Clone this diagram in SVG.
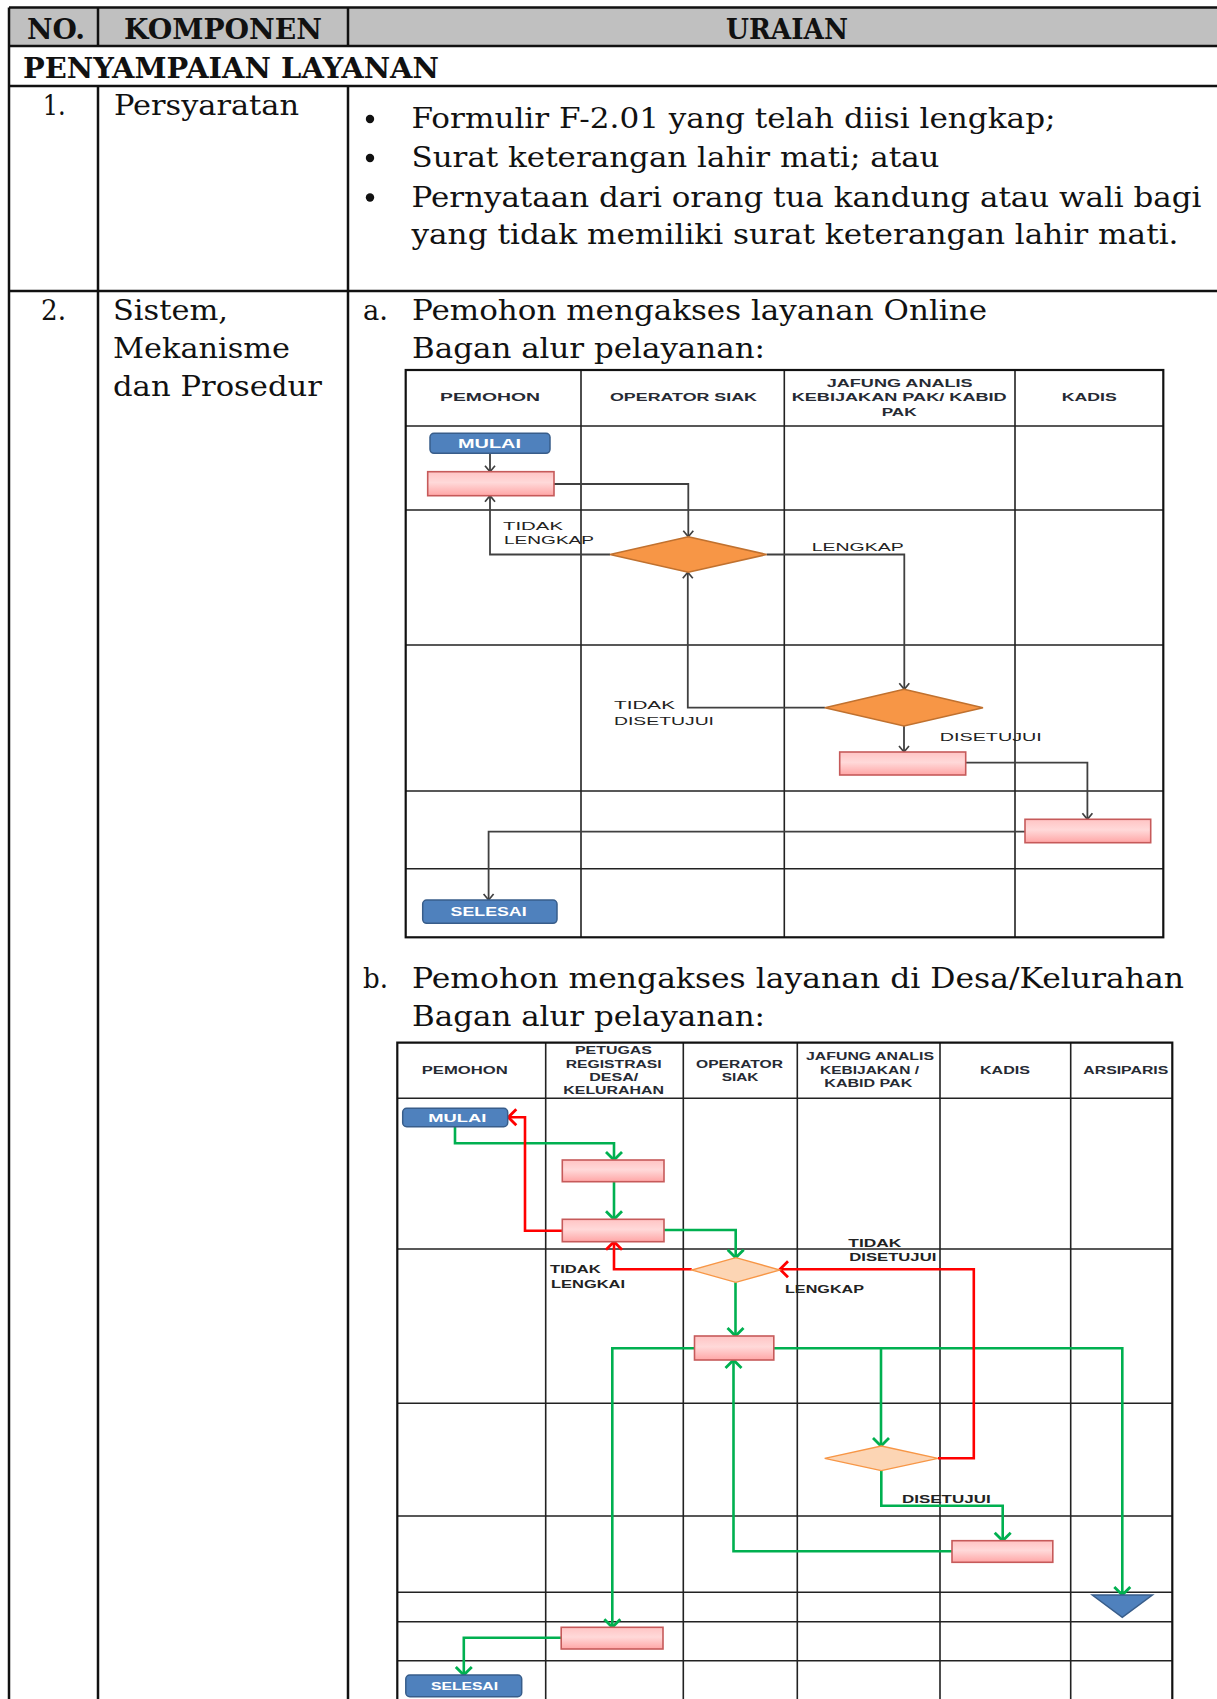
<svg xmlns="http://www.w3.org/2000/svg" width="1217" height="1699" viewBox="0 0 1217 1699">
  <style>
    .t { font-family: "DejaVu Serif", "Liberation Serif", serif; font-size: 27px; fill: #111; }
    .tb { font-family: "DejaVu Serif", "Liberation Serif", serif; font-size: 27px; font-weight: bold; fill: #111; }
    .grid { stroke: #111; stroke-width: 2.5; fill: none; }
    .lane { stroke: #222; stroke-width: 1.6; fill: none; }
    .lane-outer { stroke: #111; stroke-width: 2.2; fill: none; }
    .hd { font-family: "Liberation Sans", Arial, sans-serif; font-weight: bold; fill: #262a33; text-anchor: start; }
    .hda { font-size: 11px; }
    .hdb { font-size: 10px; }
    .lbl { font-family: "Liberation Sans", Arial, sans-serif; font-size: 11.5px; fill: #222; }
    .lblb { font-family: "Liberation Sans", Arial, sans-serif; font-size: 10.5px; font-weight: bold; fill: #222; }
    .term { fill: #4f81bd; stroke: #385d8a; stroke-width: 1.5; }
    .termtx { font-family: "Liberation Sans", Arial, sans-serif; font-weight: bold; fill: #fff; }
    .proc { fill: url(#pink); stroke: #c65a5a; stroke-width: 1.6; }
    .dec-a { fill: #f79646; stroke: #c0712f; stroke-width: 1.5; }
    .dec-b { fill: #fcd5b4; stroke: #f79646; stroke-width: 1.3; }
    .cg { fill: none; stroke: #404040; stroke-width: 1.8; }
    .cgr { fill: none; stroke: #00b050; stroke-width: 2.6; }
    .crd { fill: none; stroke: #ff0000; stroke-width: 2.6; }
  </style>
  <defs>
    <linearGradient id="pink" x1="0" y1="0" x2="0" y2="1">
      <stop offset="0" stop-color="#ffc4c4"/>
      <stop offset="0.45" stop-color="#ffd9d9"/>
      <stop offset="1" stop-color="#ffa6a6"/>
    </linearGradient>
    <marker id="arrGray" viewBox="-8 -7 10 14" markerWidth="10" markerHeight="14" refX="0" refY="0" orient="auto" markerUnits="userSpaceOnUse">
      <path d="M-6,-5 L0,0 L-6,5" fill="none" stroke="#404040" stroke-width="1.7"/>
    </marker>
    <marker id="arrGreen" viewBox="-11 -10 13 20" markerWidth="13" markerHeight="20" refX="0" refY="0" orient="auto" markerUnits="userSpaceOnUse">
      <path d="M-8,-8 L0,0 L-8,8" fill="none" stroke="#00b050" stroke-width="2.8"/>
    </marker>
    <marker id="arrRed" viewBox="-11 -10 13 20" markerWidth="13" markerHeight="20" refX="0" refY="0" orient="auto" markerUnits="userSpaceOnUse">
      <path d="M-8,-8 L0,0 L-8,8" fill="none" stroke="#ff0000" stroke-width="2.8"/>
    </marker>
  </defs>

  <rect width="1217" height="1699" fill="#fff"/>

  <!-- outer table -->
  <g id="table">
    <rect x="9" y="7.5" width="1210" height="38.5" fill="#c0c0c0"/>
    <path class="grid" d="M9,7.5 H1217 M9,46 H1217 M9,86 H1217 M9,291 H1217 M9,7.5 V1699 M98,7.5 V46 M348,7.5 V46 M98,86 V1699 M348,86 V1699"/>
  </g>

  <g id="table-text">
    <text class="tb" x="27" y="38.5" textLength="58" lengthAdjust="spacingAndGlyphs">NO.</text>
    <text class="tb" x="124" y="38.5" textLength="198" lengthAdjust="spacingAndGlyphs">KOMPONEN</text>
    <text class="tb" x="726" y="38.5" textLength="122" lengthAdjust="spacingAndGlyphs">URAIAN</text>
    <text class="tb" x="23" y="78" textLength="416" lengthAdjust="spacingAndGlyphs">PENYAMPAIAN LAYANAN</text>

    <text class="t" x="42.7" y="114.5" textLength="23" lengthAdjust="spacingAndGlyphs">1.</text>
    <text class="t" x="114" y="114.5" textLength="185" lengthAdjust="spacingAndGlyphs">Persyaratan</text>
    <circle cx="370" cy="119" r="4.2" fill="#111"/>
    <circle cx="370" cy="158" r="4.2" fill="#111"/>
    <circle cx="370" cy="197.5" r="4.2" fill="#111"/>
    <text class="t" x="411.5" y="128" textLength="644" lengthAdjust="spacingAndGlyphs">Formulir F-2.01 yang telah diisi lengkap;</text>
    <text class="t" x="411.5" y="167" textLength="528" lengthAdjust="spacingAndGlyphs">Surat keterangan lahir mati; atau</text>
    <text class="t" x="411.5" y="206.7" textLength="790" lengthAdjust="spacingAndGlyphs">Pernyataan dari orang tua kandung atau wali bagi</text>
    <text class="t" x="411.5" y="243.5" textLength="767" lengthAdjust="spacingAndGlyphs">yang tidak memiliki surat keterangan lahir mati.</text>

    <text class="t" x="41" y="320" textLength="25" lengthAdjust="spacingAndGlyphs">2.</text>
    <text class="t" x="113" y="320" textLength="115" lengthAdjust="spacingAndGlyphs">Sistem,</text>
    <text class="t" x="113" y="358" textLength="177" lengthAdjust="spacingAndGlyphs">Mekanisme</text>
    <text class="t" x="113" y="396" textLength="209" lengthAdjust="spacingAndGlyphs">dan Prosedur</text>

    <text class="t" x="363" y="320" textLength="25" lengthAdjust="spacingAndGlyphs">a.</text>
    <text class="t" x="412" y="320" textLength="575" lengthAdjust="spacingAndGlyphs">Pemohon mengakses layanan Online</text>
    <text class="t" x="412" y="358" textLength="353" lengthAdjust="spacingAndGlyphs">Bagan alur pelayanan:</text>

    <text class="t" x="363" y="988" textLength="25" lengthAdjust="spacingAndGlyphs">b.</text>
    <text class="t" x="412" y="988" textLength="772" lengthAdjust="spacingAndGlyphs">Pemohon mengakses layanan di Desa/Kelurahan</text>
    <text class="t" x="412" y="1025.5" textLength="353" lengthAdjust="spacingAndGlyphs">Bagan alur pelayanan:</text>
  </g>

  <!-- ===== Flowchart a: online service ===== -->
  <g id="flow-a-lanes">
    <path class="lane" d="M405.7,426 H1163.3 M405.7,510 H1163.3 M405.7,645 H1163.3 M405.7,791 H1163.3 M405.7,868.7 H1163.3 M581,370 V937.3 M784.3,370 V937.3 M1015,370 V937.3"/>
    <rect class="lane-outer" x="405.7" y="370" width="757.6" height="567.3"/>
    <text class="hd hda" x="440" y="400.7" textLength="100" lengthAdjust="spacingAndGlyphs">PEMOHON</text>
    <text class="hd hda" x="610" y="400.7" textLength="147" lengthAdjust="spacingAndGlyphs">OPERATOR SIAK</text>
    <text class="hd hda" x="826.7" y="386.7" textLength="146" lengthAdjust="spacingAndGlyphs">JAFUNG ANALIS</text>
    <text class="hd hda" x="791.7" y="400.7" textLength="215" lengthAdjust="spacingAndGlyphs">KEBIJAKAN PAK/ KABID</text>
    <text class="hd hda" x="881.7" y="415.7" textLength="35" lengthAdjust="spacingAndGlyphs">PAK</text>
    <text class="hd hda" x="1061.7" y="400.7" textLength="55" lengthAdjust="spacingAndGlyphs">KADIS</text>
  </g>

  <g id="flow-a-connectors">
    <path class="cg" d="M490,453.3 V471.7" marker-end="url(#arrGray)"/>
    <path class="cg" d="M554,484 H688.3 V536.7" marker-end="url(#arrGray)"/>
    <path class="cg" d="M610,554.5 H490 V495.7" marker-end="url(#arrGray)"/>
    <path class="cg" d="M766.7,554.5 H904.3 V689.3" marker-end="url(#arrGray)"/>
    <path class="cg" d="M824.9,707.7 H687.8 V572.3" marker-end="url(#arrGray)"/>
    <path class="cg" d="M904,726 V752" marker-end="url(#arrGray)"/>
    <path class="cg" d="M965.7,762.7 H1087.4 V819.3" marker-end="url(#arrGray)"/>
    <path class="cg" d="M1025,831.7 H488.6 V900" marker-end="url(#arrGray)"/>
    <text class="lbl" x="503" y="530" textLength="60" lengthAdjust="spacingAndGlyphs">TIDAK</text>
    <text class="lbl" x="504" y="544.3" textLength="90" lengthAdjust="spacingAndGlyphs">LENGKAP</text>
    <text class="lbl" x="811.7" y="550.7" textLength="92" lengthAdjust="spacingAndGlyphs">LENGKAP</text>
    <text class="lbl" x="614" y="709.3" textLength="61" lengthAdjust="spacingAndGlyphs">TIDAK</text>
    <text class="lbl" x="614" y="724.7" textLength="100" lengthAdjust="spacingAndGlyphs">DISETUJUI</text>
    <text class="lbl" x="939.8" y="740.7" textLength="102" lengthAdjust="spacingAndGlyphs">DISETUJUI</text>
  </g>

  <g id="a-mulai">
    <rect class="term" x="430" y="433.3" width="120" height="20" rx="4"/>
    <text class="termtx" x="458" y="447.7" font-size="12" textLength="63" lengthAdjust="spacingAndGlyphs">MULAI</text>
  </g>
  <g id="a-proc1"><rect class="proc" x="427.7" y="471.7" width="126.3" height="24"/></g>
  <g id="a-dec1"><polygon class="dec-a" points="688.3,536.7 766.7,554.5 688.3,572.3 610,554.5"/></g>
  <g id="a-dec2"><polygon class="dec-a" points="904,689.3 983,707.7 904,726 824.9,707.7"/></g>
  <g id="a-proc2"><rect class="proc" x="839.7" y="752" width="126" height="23"/></g>
  <g id="a-proc3"><rect class="proc" x="1025" y="819.3" width="125.7" height="23.4"/></g>
  <g id="a-selesai">
    <rect class="term" x="422.7" y="900" width="134.3" height="23.3" rx="4"/>
    <text class="termtx" x="450.6" y="916" font-size="12" textLength="76" lengthAdjust="spacingAndGlyphs">SELESAI</text>
  </g>

  <!-- ===== Flowchart b: service at village office ===== -->
  <g id="flow-b-lanes">
    <path class="lane" d="M397.3,1098.3 H1172.3 M397.3,1249 H1172.3 M397.3,1403.3 H1172.3 M397.3,1516 H1172.3 M397.3,1592.3 H1172.3 M397.3,1621.7 H1172.3 M397.3,1660.7 H1172.3 M545.7,1042.7 V1699 M683.3,1042.7 V1699 M797.3,1042.7 V1699 M940,1042.7 V1699 M1070.7,1042.7 V1699"/>
    <path class="lane-outer" d="M397.3,1699 V1042.7 H1172.3 V1699"/>
    <text class="hd hdb" x="421.7" y="1073.7" textLength="86" lengthAdjust="spacingAndGlyphs">PEMOHON</text>
    <text class="hd hdb" x="575" y="1054.4" textLength="77" lengthAdjust="spacingAndGlyphs">PETUGAS</text>
    <text class="hd hdb" x="565.7" y="1067.7" textLength="96" lengthAdjust="spacingAndGlyphs">REGISTRASI</text>
    <text class="hd hdb" x="589.3" y="1081.4" textLength="49" lengthAdjust="spacingAndGlyphs">DESA/</text>
    <text class="hd hdb" x="563.3" y="1094.4" textLength="100.7" lengthAdjust="spacingAndGlyphs">KELURAHAN</text>
    <text class="hd hdb" x="696" y="1067.7" textLength="87" lengthAdjust="spacingAndGlyphs">OPERATOR</text>
    <text class="hd hdb" x="721.7" y="1081.4" textLength="36.7" lengthAdjust="spacingAndGlyphs">SIAK</text>
    <text class="hd hdb" x="806" y="1060.4" textLength="128" lengthAdjust="spacingAndGlyphs">JAFUNG ANALIS</text>
    <text class="hd hdb" x="820" y="1073.7" textLength="99" lengthAdjust="spacingAndGlyphs">KEBIJAKAN /</text>
    <text class="hd hdb" x="824.3" y="1087" textLength="88" lengthAdjust="spacingAndGlyphs">KABID PAK</text>
    <text class="hd hdb" x="980" y="1073.7" textLength="50" lengthAdjust="spacingAndGlyphs">KADIS</text>
    <text class="hd hdb" x="1083.3" y="1073.7" textLength="85" lengthAdjust="spacingAndGlyphs">ARSIPARIS</text>
  </g>

  <g id="flow-b-connectors">
    <path class="cgr" d="M455,1126.7 V1143.3 H614 V1160" marker-end="url(#arrGreen)"/>
    <path class="cgr" d="M614,1181.7 V1219.3" marker-end="url(#arrGreen)"/>
    <path class="cgr" d="M664,1230 H735.7 V1257.7" marker-end="url(#arrGreen)"/>
    <path class="cgr" d="M735.5,1282.3 V1336" marker-end="url(#arrGreen)"/>
    <path class="cgr" d="M695,1348.3 H612.3 V1627.3" marker-end="url(#arrGreen)"/>
    <path class="cgr" d="M773.6,1348.3 H1122.3 V1595" marker-end="url(#arrGreen)"/>
    <path class="cgr" d="M881,1348.3 V1446" marker-end="url(#arrGreen)"/>
    <path class="cgr" d="M881.3,1470.7 V1505.7 H1002.7 V1540.7" marker-end="url(#arrGreen)"/>
    <path class="cgr" d="M952,1551.3 H733.5 V1360" marker-end="url(#arrGreen)"/>
    <path class="cgr" d="M561.2,1637.7 H463.8 V1675" marker-end="url(#arrGreen)"/>
    <path class="crd" d="M562.3,1230.7 H525 V1117.3 H508.3" marker-end="url(#arrRed)"/>
    <path class="crd" d="M691.7,1269.3 H614 V1241.7" marker-end="url(#arrRed)"/>
    <path class="crd" d="M938,1458.3 H973.8 V1269.3 H780" marker-end="url(#arrRed)"/>
    <text class="lblb" x="550" y="1273.3" textLength="50.7" lengthAdjust="spacingAndGlyphs">TIDAK</text>
    <text class="lblb" x="551" y="1288.3" textLength="74" lengthAdjust="spacingAndGlyphs">LENGKAI</text>
    <text class="lblb" x="848.3" y="1246.7" textLength="53" lengthAdjust="spacingAndGlyphs">TIDAK</text>
    <text class="lblb" x="849.3" y="1260.7" textLength="87" lengthAdjust="spacingAndGlyphs">DISETUJUI</text>
    <text class="lblb" x="785" y="1292.7" textLength="79" lengthAdjust="spacingAndGlyphs">LENGKAP</text>
    <text class="lblb" x="902" y="1502.7" textLength="88.6" lengthAdjust="spacingAndGlyphs">DISETUJUI</text>
  </g>

  <g id="b-mulai">
    <rect class="term" x="402.7" y="1108.3" width="105" height="18.4" rx="4"/>
    <text class="termtx" x="428.3" y="1121.7" font-size="11" textLength="58" lengthAdjust="spacingAndGlyphs">MULAI</text>
  </g>
  <g id="b-proc1"><rect class="proc" x="562.3" y="1160" width="101.7" height="21.7"/></g>
  <g id="b-proc2"><rect class="proc" x="562.3" y="1219.3" width="101.7" height="22.4"/></g>
  <g id="b-dec1"><polygon class="dec-b" points="735.8,1257.7 780,1270 735.8,1282.3 691.7,1270"/></g>
  <g id="b-proc3"><rect class="proc" x="694.5" y="1336" width="79.3" height="24"/></g>
  <g id="b-dec2"><polygon class="dec-b" points="881.3,1446 938,1458.3 881.3,1470.7 824.7,1458.3"/></g>
  <g id="b-proc4"><rect class="proc" x="952" y="1540.7" width="100.8" height="21.6"/></g>
  <g id="b-archive"><polygon class="term" points="1092.3,1595 1152.4,1595 1122.3,1617.3"/></g>
  <g id="b-proc5"><rect class="proc" x="561.2" y="1627.3" width="101.8" height="21.7"/></g>
  <g id="b-selesai">
    <rect class="term" x="405.8" y="1675" width="115.9" height="21.7" rx="4"/>
    <text class="termtx" x="431" y="1690" font-size="11" textLength="67" lengthAdjust="spacingAndGlyphs">SELESAI</text>
  </g>
</svg>
